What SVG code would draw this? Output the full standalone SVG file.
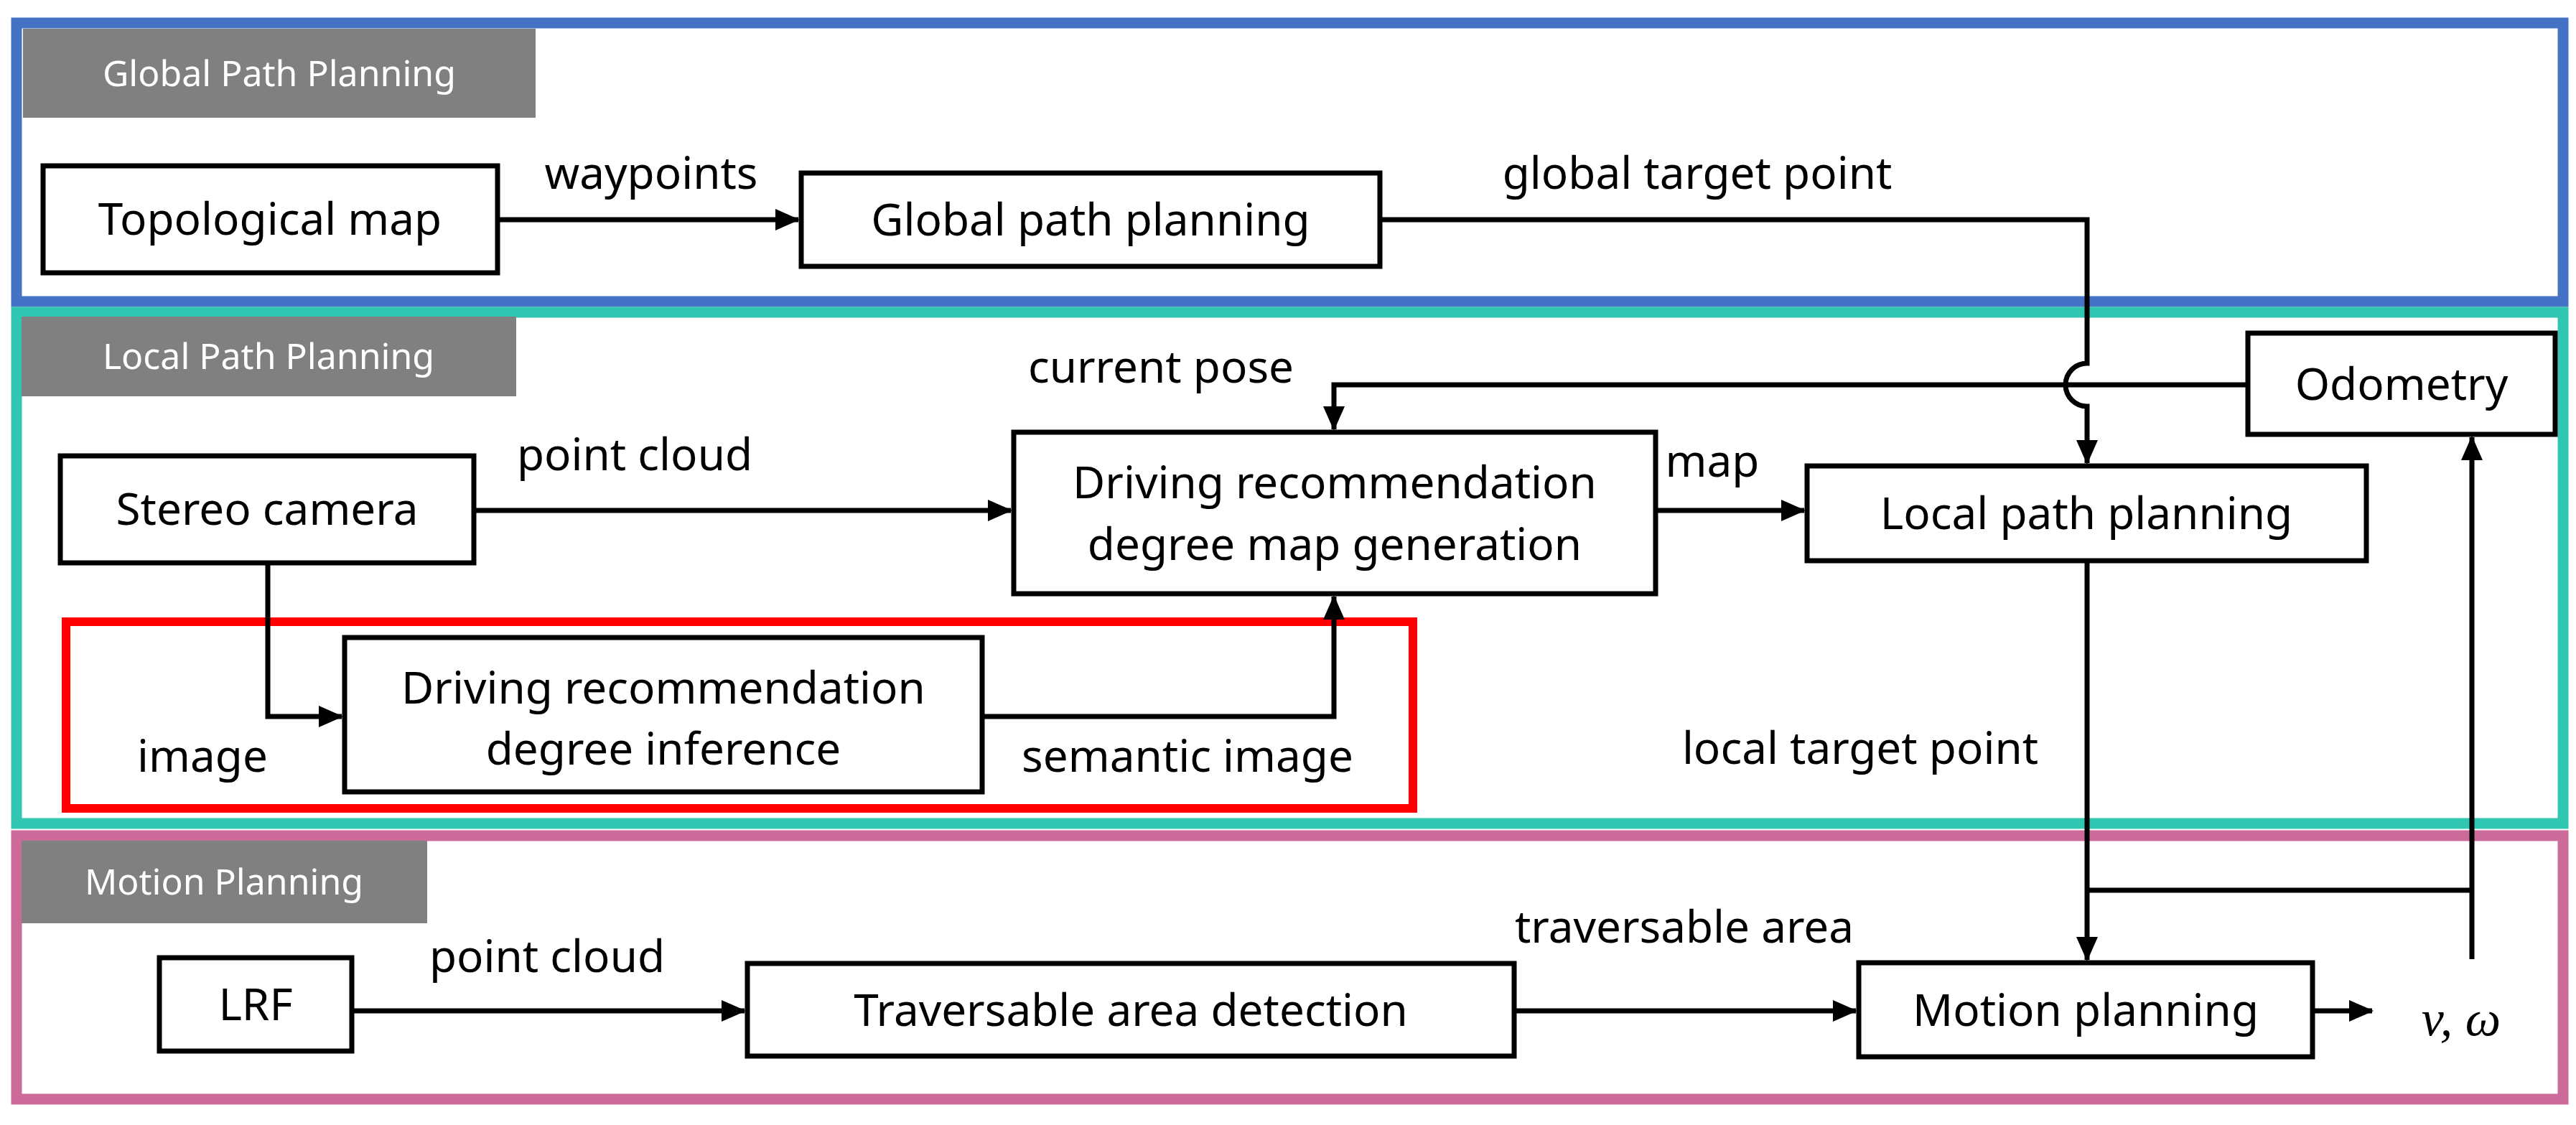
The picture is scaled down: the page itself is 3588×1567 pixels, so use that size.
<svg xmlns="http://www.w3.org/2000/svg" width="3588" height="1567" viewBox="0 0 3588 1567">
<style>
.t{font-family:"Noto Sans","Open Sans",sans-serif;font-size:62px;fill:#000}
.tag{font-family:"Noto Sans","Open Sans",sans-serif;font-size:50px;fill:#fff}
.box{fill:#fff;stroke:#000;stroke-width:7}
.ln{fill:none;stroke:#000;stroke-width:7}
</style>
<defs>
<marker id="a" markerUnits="userSpaceOnUse" markerWidth="34" markerHeight="34" viewBox="0 0 34 34" refX="32" refY="17" orient="auto"><path d="M0,2 L34,17 L0,32 Z" fill="#000"/></marker>
</defs>
<rect width="3588" height="1567" fill="#fff"/>
<g id="sec-global"><rect x="23" y="32" width="3547" height="388" fill="none" stroke="#4472C4" stroke-width="15"/><rect x="32" y="40" width="714" height="124" fill="#808080"/><text class="tag" x="389" y="120" text-anchor="middle">Global Path Planning</text></g>
<g id="sec-local"><rect x="23" y="435" width="3547" height="712" fill="none" stroke="#31C6B2" stroke-width="15"/><rect x="30" y="441" width="689" height="111" fill="#808080"/><text class="tag" x="374" y="514" text-anchor="middle">Local Path Planning</text></g>
<g id="sec-motion"><rect x="23" y="1164" width="3547" height="367" fill="none" stroke="#CC6B9A" stroke-width="15"/><rect x="30" y="1171" width="565" height="115" fill="#808080"/><text class="tag" x="312" y="1246" text-anchor="middle">Motion Planning</text></g>
<g id="red"><rect x="92" y="866" width="1876" height="260" fill="none" stroke="#FF0000" stroke-width="12"/></g>
<g id="connectors">
<path class="ln" d="M693,306 H1112" marker-end="url(#a)"/>
<path class="ln" d="M1922,306 H2907 V506 A30,30 0 0 0 2907,566 V645" marker-end="url(#a)"/>
<path class="ln" d="M3131,536 H1858 V598" marker-end="url(#a)"/>
<path class="ln" d="M660,711 H1408" marker-end="url(#a)"/>
<path class="ln" d="M2306,711 H2513" marker-end="url(#a)"/>
<path class="ln" d="M373,784 V998 H476" marker-end="url(#a)"/>
<path class="ln" d="M1368,998 H1858 V831" marker-end="url(#a)"/>
<path class="ln" d="M2907,781 V1337" marker-end="url(#a)"/>
<path class="ln" d="M2907,1240 H3443"/>
<path class="ln" d="M3443,1336 V609" marker-end="url(#a)"/>
<path class="ln" d="M490,1408 H1037" marker-end="url(#a)"/>
<path class="ln" d="M2109,1408 H2585" marker-end="url(#a)"/>
<path class="ln" d="M3221,1408 H3304" marker-end="url(#a)"/>
</g>
<g id="n-topo"><rect class="box" x="60" y="231" width="633" height="149"/><text class="t" x="376" y="327" text-anchor="middle">Topological map</text></g>
<g id="n-gpp"><rect class="box" x="1116" y="241" width="806" height="130"/><text class="t" x="1519" y="328" text-anchor="middle">Global path planning</text></g>
<g id="n-stereo"><rect class="box" x="84" y="635" width="576" height="149"/><text class="t" x="372" y="731" text-anchor="middle">Stereo camera</text></g>
<g id="n-drmg"><rect class="box" x="1412" y="602" width="894" height="225"/><text class="t" x="1859" y="694" text-anchor="middle">Driving recommendation</text><text class="t" x="1859" y="780" text-anchor="middle">degree map generation</text></g>
<g id="n-lpp"><rect class="box" x="2517" y="649" width="779" height="132"/><text class="t" x="2906" y="737" text-anchor="middle">Local path planning</text></g>
<g id="n-odo"><rect class="box" x="3131" y="464" width="428" height="141"/><text class="t" x="3345" y="557" text-anchor="middle">Odometry</text></g>
<g id="n-dri"><rect class="box" x="480" y="888" width="888" height="215"/><text class="t" x="924" y="980" text-anchor="middle">Driving recommendation</text><text class="t" x="924" y="1065" text-anchor="middle">degree inference</text></g>
<g id="n-lrf"><rect class="box" x="222" y="1334" width="268" height="130"/><text class="t" x="356" y="1421" text-anchor="middle">LRF</text></g>
<g id="n-tad"><rect class="box" x="1041" y="1342" width="1068" height="129"/><text class="t" x="1575" y="1429" text-anchor="middle">Traversable area detection</text></g>
<g id="n-mp"><rect class="box" x="2589" y="1341" width="632" height="131"/><text class="t" x="2905" y="1429" text-anchor="middle">Motion planning</text></g>
<g id="labels">
<text class="t" x="907" y="263" text-anchor="middle">waypoints</text>
<text class="t" x="2364" y="263" text-anchor="middle">global target point</text>
<text class="t" x="1617" y="533" text-anchor="middle">current pose</text>
<text class="t" x="884" y="655" text-anchor="middle">point cloud</text>
<text class="t" x="2385" y="664" text-anchor="middle">map</text>
<text class="t" x="282" y="1075" text-anchor="middle">image</text>
<text class="t" x="1654" y="1075" text-anchor="middle">semantic image</text>
<text class="t" x="2591" y="1064" text-anchor="middle">local target point</text>
<text class="t" x="762" y="1354" text-anchor="middle">point cloud</text>
<text class="t" x="2346" y="1313" text-anchor="middle">traversable area</text>
<text x="3428" y="1442" text-anchor="middle" style="font-family:'Liberation Serif','DejaVu Serif',serif;font-style:italic;font-size:70px">v, ω</text>
</g>
</svg>
